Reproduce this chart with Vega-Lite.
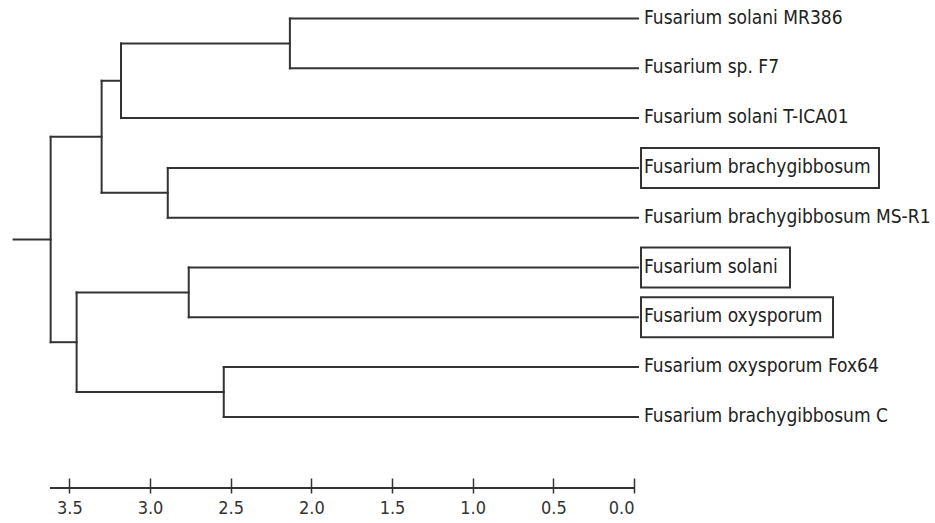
{
  "$schema": "https://vega.github.io/schema/vega-lite/v6.json",
  "width": 584,
  "height": 488,
  "padding": {"left": 12, "top": 0, "right": 2, "bottom": 0},
  "background": "white",
  "config": {"view": {"stroke": null}},
  "datasets": {
    "segments": [
      {"x": 3.846, "x2": 3.616, "y": 5.4375, "y2": 5.4375},
      {"x": 3.616, "x2": 3.616, "y": 3.375, "y2": 7.5},
      {"x": 3.616, "x2": 3.300, "y": 3.375, "y2": 3.375},
      {"x": 3.616, "x2": 3.455, "y": 7.5, "y2": 7.5},
      {"x": 3.300, "x2": 3.300, "y": 2.25, "y2": 4.5},
      {"x": 3.300, "x2": 3.180, "y": 2.25, "y2": 2.25},
      {"x": 3.300, "x2": 2.890, "y": 4.5, "y2": 4.5},
      {"x": 3.180, "x2": 3.180, "y": 1.5, "y2": 3},
      {"x": 3.180, "x2": 2.133, "y": 1.5, "y2": 1.5},
      {"x": 3.180, "x2": -0.025, "y": 3, "y2": 3},
      {"x": 2.133, "x2": 2.133, "y": 1, "y2": 2},
      {"x": 2.133, "x2": -0.025, "y": 1, "y2": 1},
      {"x": 2.133, "x2": -0.025, "y": 2, "y2": 2},
      {"x": 2.890, "x2": 2.890, "y": 4, "y2": 5},
      {"x": 2.890, "x2": -0.025, "y": 4, "y2": 4},
      {"x": 2.890, "x2": -0.025, "y": 5, "y2": 5},
      {"x": 3.455, "x2": 3.455, "y": 6.5, "y2": 8.5},
      {"x": 3.455, "x2": 2.760, "y": 6.5, "y2": 6.5},
      {"x": 3.455, "x2": 2.543, "y": 8.5, "y2": 8.5},
      {"x": 2.760, "x2": 2.760, "y": 6, "y2": 7},
      {"x": 2.760, "x2": -0.025, "y": 6, "y2": 6},
      {"x": 2.760, "x2": -0.025, "y": 7, "y2": 7},
      {"x": 2.543, "x2": 2.543, "y": 8, "y2": 9},
      {"x": 2.543, "x2": -0.025, "y": 8, "y2": 8},
      {"x": 2.543, "x2": -0.025, "y": 9, "y2": 9}
    ],
    "leaves": [
      {"label": "Fusarium solani MR386", "leaf": 1, "boxed": false},
      {"label": "Fusarium sp. F7", "leaf": 2, "boxed": false},
      {"label": "Fusarium solani T-ICA01", "leaf": 3, "boxed": false},
      {"label": "Fusarium brachygibbosum", "leaf": 4, "boxed": true},
      {"label": "Fusarium brachygibbosum MS-R1", "leaf": 5, "boxed": false},
      {"label": "Fusarium solani", "leaf": 6, "boxed": true},
      {"label": "Fusarium oxysporum", "leaf": 7, "boxed": true},
      {"label": "Fusarium oxysporum Fox64", "leaf": 8, "boxed": false},
      {"label": "Fusarium brachygibbosum C", "leaf": 9, "boxed": false}
    ]
  },
  "layer": [
    {
      "data": {"name": "segments"},
      "mark": {"type": "rule", "stroke": "#333333", "strokeWidth": 2, "strokeCap": "square"},
      "encoding": {
        "x": {
          "field": "x", "type": "quantitative",
          "scale": {"domain": [0, 3.62], "reverse": true, "nice": false, "zero": false},
          "axis": {
            "values": [3.5, 3.0, 2.5, 2.0, 1.5, 1.0, 0.5, 0.0],
            "format": ".1f",
            "title": null,
            "domain": false,
            "grid": false,
            "offset": -10,
            "tickSize": 15,
            "tickWidth": 1.5,
            "tickColor": "#333333",
            "labelPadding": 6,
            "labelFont": "DejaVu Sans Condensed, sans-serif",
            "labelFontSize": 18,
            "labelColor": "#333333"
          }
        },
        "x2": {"field": "x2"},
        "y": {
          "field": "y", "type": "quantitative",
          "scale": {"domain": [0.628, 10.428], "reverse": true, "nice": false, "zero": false},
          "axis": null
        },
        "y2": {"field": "y2"}
      }
    },
    {
      "data": {"values": [{}]},
      "mark": {"type": "rule", "stroke": "#333333", "strokeWidth": 2},
      "encoding": {
        "x": {"datum": 3.62, "type": "quantitative"},
        "x2": {"datum": 0},
        "y": {"datum": 10.428, "type": "quantitative"}
      }
    },
    {
      "data": {"name": "leaves"},
      "transform": [{"filter": "datum.boxed"}],
      "mark": {
        "type": "rect",
        "fillOpacity": 0,
        "stroke": "#333333",
        "strokeWidth": 2,
        "xOffset": 7,
        "x2Offset": {"expr": "9.2 * length(datum.label) + 15.4 * (length(datum.label) - length(replace(datum.label, regexp('m', 'g'), ''))) + 2.6"},
        "yOffset": -20,
        "y2Offset": 20
      },
      "encoding": {
        "x": {"datum": 0, "type": "quantitative"},
        "x2": {"datum": 0},
        "y": {"field": "leaf", "type": "quantitative"},
        "y2": {"field": "leaf"}
      }
    },
    {
      "data": {"name": "leaves"},
      "mark": {
        "type": "text",
        "align": "left",
        "baseline": "middle",
        "dx": 10,
        "dy": -1,
        "font": "DejaVu Sans Condensed, sans-serif",
        "fontSize": 19,
        "fill": "#222222"
      },
      "encoding": {
        "x": {"datum": 0, "type": "quantitative"},
        "y": {"field": "leaf", "type": "quantitative"},
        "text": {"field": "label"}
      }
    }
  ]
}
